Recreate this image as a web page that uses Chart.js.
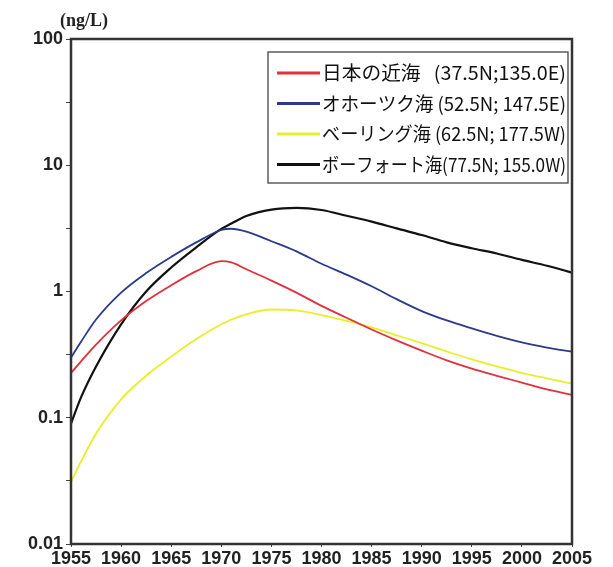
<!DOCTYPE html>
<html><head><meta charset="utf-8">
<script src="https://cdn.jsdelivr.net/npm/chart.js@4.4.1/dist/chart.umd.min.js"></script>
<style>html,body{margin:0;padding:0;background:#fff}#wrap{width:613px;height:567px}</style>
</head><body><div id="wrap"><canvas id="c" width="613" height="567"></canvas></div>
<script>
const years = [1955,1956,1957.5,1960,1962.5,1965,1967.5,1970,1971,1972.5,1975,1977.5,1980,1982.5,1985,1987.5,1990,1992.5,1995,1997.5,2000,2002.5,2005];
const japanSea   = [0.226,0.28,0.38,0.59,0.84,1.12,1.45,1.74,1.7,1.5,1.22,0.98,0.77,0.62,0.5,0.41,0.34,0.285,0.245,0.215,0.19,0.168,0.152];
const okhotskSea = [0.3,0.4,0.6,0.98,1.4,1.88,2.45,3.07,3.14,2.98,2.5,2.08,1.66,1.36,1.1,0.87,0.7,0.59,0.51,0.445,0.395,0.36,0.334];
const beringSea  = [0.031,0.045,0.075,0.14,0.215,0.305,0.42,0.55,0.6,0.66,0.72,0.71,0.65,0.585,0.52,0.45,0.39,0.335,0.29,0.255,0.227,0.205,0.186];
const beaufortSea= [0.09,0.145,0.255,0.55,1.0,1.55,2.24,3.13,3.45,3.96,4.45,4.6,4.42,3.98,3.58,3.16,2.8,2.45,2.2,2.0,1.78,1.6,1.41];
const seriesLabels = ['日本の近海   (37.5N;135.0E)','オホーツク海 (52.5N; 147.5E)','ベーリング海 (62.5N; 177.5W)','ボーフォート海(77.5N; 155.0W)'];
const yTickValues = [0.01,0.1,1,10,100];
const yMinorValues = [0.0316,0.316,3.16,31.6];
const xTickLabels = [1955,1960,1965,1970,1975,1980,1985,1990,1995,2000,2005];
const unitLabel = '(ng/L)';

const colors = ['#e0303c','#2c3a8a','#e6f028','#111111'];
const widths = [1.8,1.8,1.8,2.2];
const allSeries = [japanSea, okhotskSea, beringSea, beaufortSea];

const datasets = allSeries.map((arr,i)=>({
  label: seriesLabels[i],
  data: years.map((x,j)=>({x:x,y:arr[j]})),
  borderColor: colors[i],
  backgroundColor: colors[i],
  borderWidth: widths[i],
  pointRadius: 0,
  cubicInterpolationMode: 'monotone',
  fill: false
}));

const decor = {
  id:'decor',
  afterDatasetsDraw(chart){
    const ctx = chart.ctx, a = chart.chartArea;
    ctx.save();
    ctx.strokeStyle = '#333'; ctx.lineWidth = 2.5;
    ctx.strokeRect(a.left, a.top, a.right-a.left, a.bottom-a.top);
    ctx.fillStyle = '#222';
    ctx.font = 'bold 18px "Liberation Serif"';
    ctx.textAlign = 'left'; ctx.textBaseline = 'middle';
    ctx.fillText(unitLabel, 60, 21);
    const lx = a.left + 197, ly = a.top + 13, lw = 300, lh = 131;
    ctx.lineWidth = 1.3; ctx.strokeStyle = '#444';
    ctx.strokeRect(lx, ly, lw, lh);
    chart.data.datasets.forEach((ds,i)=>{
      const yy = ly + 21 + i*30.5;
      ctx.strokeStyle = ds.borderColor; ctx.lineWidth = 3;
      ctx.beginPath(); ctx.moveTo(lx+9, yy); ctx.lineTo(lx+52, yy); ctx.stroke();
      ctx.font = '19px "Noto Sans CJK JP"';
      ctx.fillStyle = '#111'; ctx.textAlign='left'; ctx.textBaseline='middle';
      const t = ds.label; const m = ctx.measureText(t).width;
      const target = 244;
      ctx.save(); ctx.translate(lx+54, yy); ctx.scale(target/m, 1);
      ctx.fillText(t, 0, 0); ctx.restore();
    });
    ctx.restore();
  }
};

const tickFont = {family:'"Liberation Sans", Arial, sans-serif', weight:'bold', size:18};

new Chart(document.getElementById('c'), {
  type:'line',
  data:{datasets},
  options:{
    responsive:false, animation:false,
    layout:{padding:{top:39,right:41,left:0,bottom:0}},
    plugins:{legend:{display:false}, tooltip:{enabled:false}},
    scales:{
      x:{type:'linear', min:1955, max:2005,
        afterBuildTicks(s){ s.ticks = xTickLabels.map(v=>({value:v})); },
        afterFit(s){ s.height = 23; },
        grid:{drawOnChartArea:false, drawTicks:true, tickLength:3, color:'#444'},
        border:{display:false},
        ticks:{padding:1, maxRotation:0, minRotation:0, autoSkip:false, color:'#222', font:tickFont, callback:v=>String(v)}
      },
      y:{type:'logarithmic', min:0.01, max:100,
        afterBuildTicks(s){ s.ticks = yTickValues.concat(yMinorValues).sort((p,q)=>p-q).map(v=>({value:v})); },
        afterFit(s){ s.width = 71; },
        grid:{drawOnChartArea:false, drawTicks:true, tickLength:5, color:'#444'},
        border:{display:false},
        ticks:{padding:3, color:'#222', autoSkip:false, font:tickFont,
          callback:(v)=>{ const i = yTickValues.findIndex(t=>Math.abs(t-v)/t<1e-6); return i>=0 ? String(yTickValues[i]) : ''; }}
      }
    }
  },
  plugins:[decor]
});
</script></body></html>
